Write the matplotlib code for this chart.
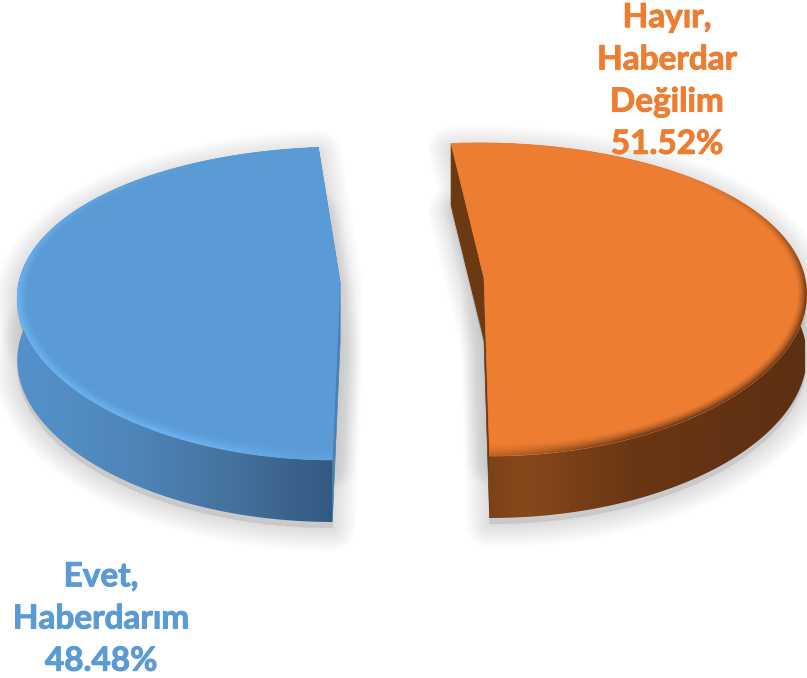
#!/usr/bin/env python3
"""
Exploded 3D style pie chart, drawn by hand with a small perspective projection.
"""

import numpy as np
import matplotlib
matplotlib.use('Agg')
import matplotlib.pyplot as plt
import matplotlib.patheffects as pe
from matplotlib.colors import LinearSegmentedColormap, to_rgb
from matplotlib.patches import Polygon

categories = ['Hayır,\nHaberdar\nDeğilim', 'Evet,\nHaberdarım']
values = [51.52, 48.48]

FIRST_ANGLE = -5.3
CENTER_X = 412
EXPLODE = 72
RADIUS_X = 321
RADIUS_Y = 153.6
PERSP_X = 0.085
PERSP_Y = 0.137
DEPTH = 62
W, H = 807, 678


def project(theta, side, cy):
    """Rim of the pie to pixels. theta is clockwise from the top, in degrees."""
    t = np.radians(theta)
    far = np.cos(t)
    x = CENTER_X + (side * EXPLODE + RADIUS_X * np.sin(t)) / (1.0 + PERSP_X * far)
    y = cy - RADIUS_Y * far / (1.0 + PERSP_Y * far)
    return x, y


def unproject(px, py, side, cy):
    """Pixels back to pie coordinates, used for shading the top face."""
    u = (cy - py) / RADIUS_Y
    far = u / (1.0 - PERSP_Y * u)
    across = ((px - CENTER_X) * (1.0 + PERSP_X * far) - side * EXPLODE) / RADIUS_X
    r = np.hypot(far, across)
    theta = np.degrees(np.arctan2(across, far)) % 360
    return r, theta, far, across


def gradient_fill(ax, poly_xy, stops, xr):
    """Horizontal gradient clipped to a polygon."""
    cmap = LinearSegmentedColormap.from_list('g', stops)
    patch = Polygon(poly_xy, closed=True, fc='none', ec='none')
    ax.add_patch(patch)
    im = ax.imshow(np.linspace(0, 1, 256).reshape(1, -1), cmap=cmap, aspect='auto',
                   extent=(xr[0], xr[1], H, 0), zorder=3)
    im.set_clip_path(patch)
    return im


def draw_shadow(ax, face, bottom):
    for lw in np.arange(34, 1, -2):
        for pts in (face, bottom):
            shifted = pts + np.array([0, 6])
            ax.add_patch(Polygon(shifted, closed=True, fc='#808080', ec='#808080',
                                 lw=lw, alpha=0.011, joinstyle='round', zorder=1))


def draw_rim(ax, face_patch, side, cy, color, strength, width, peak):
    """Soft band along the outer edge of the top face, shaded per pixel."""
    px, py = np.meshgrid(np.arange(W) + 0.5, np.arange(H) + 0.5)
    r, theta, far, across = unproject(px, py, side, cy)
    # rough distance to the rim in pixels
    size = np.hypot(RADIUS_X * across, RADIUS_Y * far) / np.maximum(r, 1e-6)
    dist = (1.0 - r) * size
    fade = np.clip(1.0 - dist / width, 0, 1) ** 1.6
    rgba = np.zeros((H, W, 4))
    rgba[..., :3] = to_rgb(color)
    rgba[..., 3] = peak * fade * strength(theta)
    im = ax.imshow(rgba, extent=(0, W, H, 0), aspect='auto', zorder=5, interpolation='bilinear')
    im.set_clip_path(face_patch)


def draw_slice(ax, start, sweep, side, cy, top_color, wall_stops, wall_range, inner_color,
               rim_color, rim_strength, rim_width, rim_peak):
    theta = np.linspace(start, start + sweep, 240)
    arc_x, arc_y = project(theta, side, cy)
    apex_x = CENTER_X + side * EXPLODE

    face = np.r_[[[apex_x, cy]], np.c_[arc_x, arc_y]]
    bottom = face + np.array([0, DEPTH])
    draw_shadow(ax, face, bottom)

    # inner cut walls
    for i in (1, len(face) - 1):
        quad = [face[0], face[i], bottom[i], bottom[0]]
        ax.add_patch(Polygon(quad, closed=True, fc=inner_color, ec=inner_color, lw=0.5, zorder=3))

    # outer wall
    ribbon = np.r_[face[1:], bottom[1:][::-1]]
    gradient_fill(ax, ribbon, wall_stops, wall_range)

    patch = Polygon(face, closed=True, fc=top_color, ec=top_color, lw=0.5, zorder=4)
    ax.add_patch(patch)
    draw_rim(ax, patch, side, cy, rim_color, rim_strength, rim_width, rim_peak)


def orange_rim(t):
    return np.clip((t - 45) / 50, 0, 1) * np.where(t > 200, 0.0, np.clip((195 - t) / 40, 0.35, 1))


def blue_rim(t):
    return np.clip((335 - t) / 70, 0, 1) * np.clip((t - 178) / 25, 0.35, 1)


fig = plt.figure(figsize=(8.07, 6.78), dpi=100)
ax = fig.add_axes([0, 0, 1, 1])

sweep_orange = 360 * values[0] / sum(values)
sweep_blue = 360 * values[1] / sum(values)

draw_slice(ax, FIRST_ANGLE, sweep_orange, 1, 278, '#ED7D31',
           [(0.0, '#7A4117'), (0.12, '#87491B'), (0.45, '#6A3714'), (1.0, '#5C3012')], (485, 805),
           '#6B3A12', '#5F3112', orange_rim, 10, 0.95)
draw_slice(ax, FIRST_ANGLE + sweep_orange, sweep_blue, -1, 282, '#5B9BD5',
           [(0.0, '#5592CB'), (0.35, '#4F86BA'), (0.7, '#44709B'), (1.0, '#31587F')], (16, 338),
           '#4A80B4', '#6DB5F5', blue_rim, 11, 1.0)

ax.set_xlim(0, W)
ax.set_ylim(H, 0)
ax.axis('off')

labels = [f'{c}\n{v:.2f}%' for c, v in zip(categories, values)]
for label, color, tx, ty in zip(labels, ['#ED7D31', '#5B9BD5'], [667, 101], [81, 619]):
    ax.text(tx, ty, label, color=color, ha='center', va='center', family='Lato',
            fontweight='bold', fontsize=24, linespacing=1.55, zorder=10,
            path_effects=[pe.withStroke(linewidth=0.7, foreground=color)])

fig.savefig('out.png', dpi=100)
